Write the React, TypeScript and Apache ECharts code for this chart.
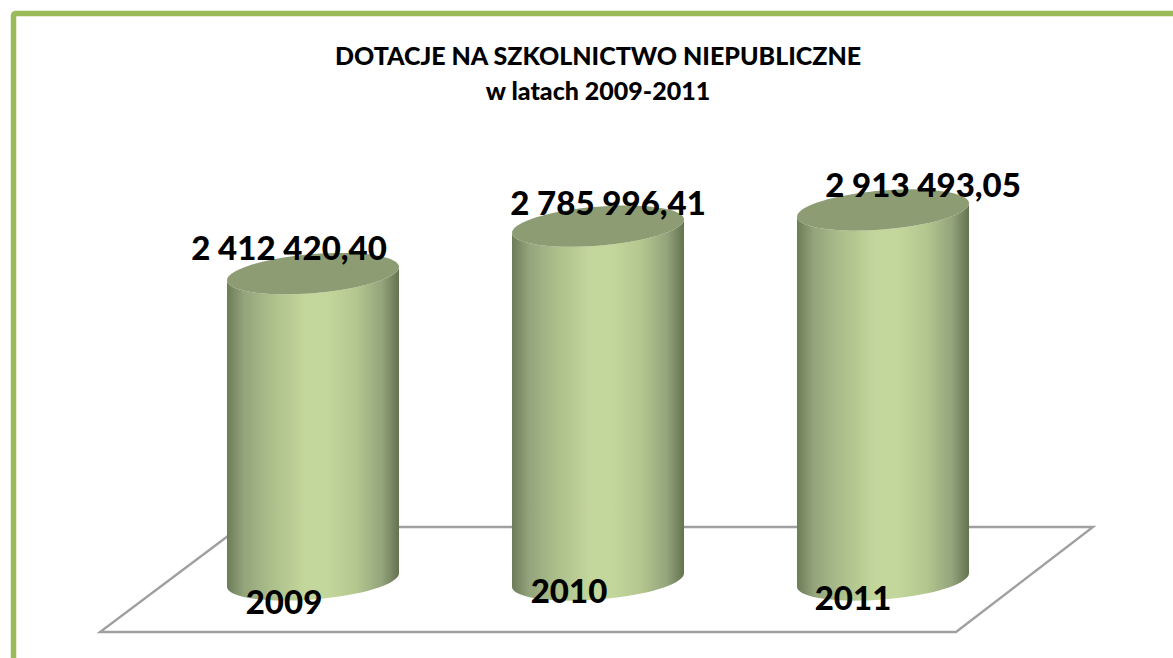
import React, { useEffect, useRef } from "react";
import * as echarts from "echarts";

const categories = ["2009", "2010", "2011"];
const values = [2412420.4, 2785996.41, 2913493.05];
const titleText = "DOTACJE NA SZKOLNICTWO NIEPUBLICZNE\nw latach 2009-2011";

const valueLabelOffsets = [[-24, -27], [10, -24], [40, -26]];
const categoryLabelOffsets = [[-29, 21], [-29, 10], [-30, 17]];

const FONT = "Lato, Carlito, Calibri, sans-serif";
const LABEL_FONT = `900 33px ${FONT}`;
const GREY = "#a0a0a0";

const sideGradient = {
  type: "linear", x: 0, y: 0, x2: 1, y2: 0,
  colorStops: [
    { offset: 0, color: "#6d7c58" },
    { offset: 0.1, color: "#94a47c" },
    { offset: 0.25, color: "#abbd8a" },
    { offset: 0.45, color: "#c3d69b" },
    { offset: 0.58, color: "#c3d69b" },
    { offset: 0.75, color: "#b4c78f" },
    { offset: 0.9, color: "#94a47c" },
    { offset: 1, color: "#64734f" },
  ],
};

const fmt = (v: number) => {
  const [i, d] = v.toFixed(2).split(".");
  return `${i.replace(/\B(?=(\d{3})+$)/g, " ")},${d}`;
};

function ellipsePoint(cx: number, cy: number, rx: number, ry: number, tilt: number, t: number) {
  return [cx + rx * Math.cos(t), cy + ry * Math.sin(t) - tilt * Math.cos(t)];
}

function renderCylinder(params: any, api: any) {
  const i = api.value(0);
  const v = api.value(1);
  const [cx, topY] = api.coord([i, v]);
  const [, baseY] = api.coord([i, 0]);
  const band = api.size([1, 0])[0];
  const rx = band * 0.3018;
  const ry = rx * 0.227;
  const tilt = rx * 0.078;
  const N = 72;

  const side: number[][] = [];
  for (let k = 0; k <= N / 2; k++) side.push(ellipsePoint(cx, baseY, rx, ry, tilt, Math.PI - (k / (N / 2)) * Math.PI));
  for (let k = 0; k <= N / 2; k++) side.push(ellipsePoint(cx, topY, rx, ry, tilt, (k / (N / 2)) * Math.PI));

  const top: number[][] = [];
  for (let k = 0; k < N; k++) top.push(ellipsePoint(cx, topY, rx, ry, tilt, (k / N) * 2 * Math.PI));

  const vo = valueLabelOffsets[i];
  const co = categoryLabelOffsets[i];
  return {
    type: "group",
    children: [
      { type: "polygon", shape: { points: side }, style: { fill: sideGradient } },
      { type: "polygon", shape: { points: top }, style: { fill: "#8d9c73" } },
      {
        type: "text", z2: 10,
        style: { text: fmt(v), x: cx + vo[0], y: topY + vo[1], font: LABEL_FONT, fill: "#000", align: "center", verticalAlign: "middle" },
      },
      {
        type: "text", z2: 10,
        style: { text: categories[i], x: cx + co[0], y: baseY + co[1], font: LABEL_FONT, fill: "#000", align: "center", verticalAlign: "middle" },
      },
    ],
  };
}

export default function App() {
  const ref = useRef<HTMLDivElement>(null);
  useEffect(() => {
    document.body.style.margin = "0";
    const chart = echarts.init(ref.current!, null, { renderer: "svg" });
    chart.setOption({
      animation: false,
      backgroundColor: "#fff",
      title: {
        text: titleText, left: 593, top: 32, textAlign: "center",
        textStyle: { fontFamily: FONT, fontWeight: 900, fontSize: 25, lineHeight: 35, color: "#000" },
      },
      grid: { left: 170.5, width: 855, top: 72, height: 508 },
      xAxis: { type: "category", data: categories, show: false },
      yAxis: { type: "value", min: 0, max: 4000000, show: false },
      graphic: [
        { type: "rect", z: 0, shape: { x: 13.5, y: 13.5, width: 1400, height: 900, r: 2 }, style: { fill: "none", stroke: "#9bbb59", lineWidth: 5.5 } },
        { type: "polygon", z: 0, shape: { points: [[240, 527], [1093, 527], [956, 632], [100, 632]] }, style: { fill: "none", stroke: GREY, lineWidth: 2.4 } },
      ],
      series: [{
        type: "custom", z: 5, clip: false,
        data: values.map((v, i) => [i, v]),
        encode: { x: 0, y: 1 },
        renderItem: renderCylinder,
      }],
    });
    return () => chart.dispose();
  }, []);
  return <div ref={ref} style={{ width: 1173, height: 658 }} />;
}
